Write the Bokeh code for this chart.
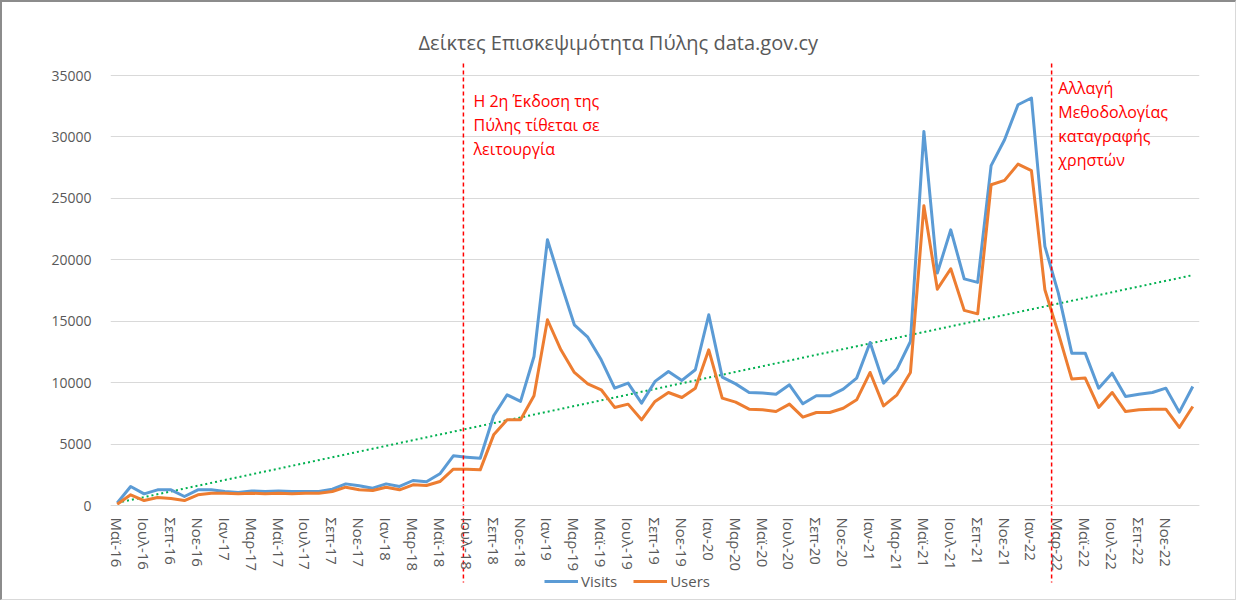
import numpy as np
from bokeh.plotting import figure
from bokeh.models import FixedTicker, Legend, LegendItem, Label, Title, ColumnDataSource
from bokeh.embed import file_html
from bokeh.resources import INLINE

# ---- data ----
month_names = ["Ιαν", "Φεβ", "Μαρ", "Απρ", "Μαϊ", "Ιουν", "Ιουλ", "Αυγ", "Σεπ", "Οκτ", "Νοε", "Δεκ"]
months = []
for k in range(81):
    m = (4 + k) % 12
    y = 16 + (4 + k) // 12
    months.append(f"{month_names[m]}-{y}")

visits = [200, 1550, 950, 1275, 1275, 730, 1275, 1275, 1140, 1060,
          1190, 1140, 1190, 1140, 1140, 1140, 1330, 1760, 1600, 1410,
          1760, 1550, 2035, 1930, 2580, 4040, 3935, 3850, 7300, 9010,
          8470, 12130, 21630, 18100, 14710, 13700, 11860, 9550, 9960, 8330,
          10100, 10910, 10180, 11050, 15520, 10450, 9900, 9200, 9150, 9060,
          9820, 8280, 8930, 8930, 9470, 10370, 13270, 9960, 11100, 13350,
          30450, 18920, 22440, 18450, 18160, 27660, 29770, 32620, 33170, 21090,
          17290, 12400, 12400, 9550, 10770, 8870, 9060, 9200, 9550, 7600,
          9690]
users = [100, 870, 400, 650, 570, 400, 870, 1000, 1000, 950,
         1000, 950, 1000, 950, 1000, 1000, 1140, 1490, 1275, 1220,
         1490, 1275, 1680, 1630, 1950, 2960, 2960, 2900, 5750, 6975,
         6975, 8930, 15120, 12670, 10830, 9900, 9420, 7980, 8250, 6975,
         8470, 9200, 8790, 9550, 12670, 8740, 8410, 7840, 7790, 7650,
         8250, 7190, 7570, 7570, 7920, 8600, 10830, 8110, 9010, 10830,
         24400, 17610, 19270, 15880, 15600, 26110, 26460, 27790, 27250, 17560,
         14030, 10290, 10370, 7980, 9200, 7650, 7790, 7840, 7840, 6350,
         8060]
y_ticks = [0, 5000, 10000, 15000, 20000, 25000, 30000, 35000]
title_text = "Δείκτες Επισκεψιμότητα Πύλης data.gov.cy"
note1 = ["Η 2η Έκδοση της", "Πύλης τίθεται σε", "λειτουργία"]
note2 = ["Αλλαγή", "Μεθοδολογίας", "καταγραφής", "χρηστών"]

# ---- styling constants ----
BLUE = "#5B9BD5"
ORANGE = "#ED7D31"
GREEN = "#00B050"
GREY_TXT = "#595959"
GRID = "#D9D9D9"
FONT = "Open Sans"
UNITS_PER_PX = 35000 / 430.0

x = list(range(len(months)))
src = ColumnDataSource(dict(x=x, visits=visits, users=users, month=months))

p = figure(width=1236, height=600, output_backend="svg", toolbar_location=None,
           x_range=(-0.5, 80.5), y_range=(-85 * UNITS_PER_PX, 445 * UNITS_PER_PX),
           min_border_left=108, min_border_right=39, min_border_top=58, min_border_bottom=12)
p.outline_line_color = None
p.background_fill_color = "white"

p.title = Title(text=title_text, align="left", text_font=FONT, text_font_size="20px",
                text_color=GREY_TXT, text_font_style="normal", standoff=9, offset=308)

# gridlines / axes
p.xgrid.visible = False
p.ygrid.grid_line_color = GRID
p.ygrid.grid_line_width = 1
p.yaxis.ticker = FixedTicker(ticks=y_ticks)
p.yaxis.axis_line_color = None
p.yaxis.major_tick_line_color = None
p.yaxis.minor_tick_line_color = None
p.yaxis.major_label_text_font = FONT
p.yaxis.major_label_text_font_size = "14px"
p.yaxis.major_label_text_color = GREY_TXT
p.yaxis.major_label_standoff = 13

label_idx = list(range(0, 79, 2))
p.xaxis.ticker = FixedTicker(ticks=label_idx)
p.xaxis.major_label_overrides = {i: months[i] for i in label_idx}
p.xaxis.fixed_location = 0
p.xaxis.axis_line_color = GRID
p.xaxis.major_tick_line_color = None
p.xaxis.minor_tick_line_color = None
p.xaxis.major_label_orientation = "vertical"
p.xaxis.major_label_text_font = FONT
p.xaxis.major_label_text_font_size = "15px"
p.xaxis.major_label_text_color = GREY_TXT
p.xaxis.major_label_standoff = 6

# trendline (linear fit of visits)
coef = np.polyfit(x, visits, 1)
trend = [coef[1] + coef[0] * xi for xi in (x[0], x[-1])]
p.line([x[0], x[-1]], trend, line_color=GREEN, line_width=2, line_dash="2 3")

rv = p.line("x", "visits", source=src, line_color=BLUE, line_width=3, line_join="round")
ru = p.line("x", "users", source=src, line_color=ORANGE, line_width=3, line_join="round")

# vertical event markers
events = [25.75, 69.5]
for ev in events:
    p.segment(x0=ev, x1=ev, y0=442 * UNITS_PER_PX, y1=-77 * UNITS_PER_PX,
              line_color="#FF0000", line_width=1.5, line_dash="4 3")

def add_note(lines, xpos, ytop_px):
    for k, t in enumerate(lines):
        ypx = ytop_px + 24 * k
        p.add_layout(Label(x=xpos, y=(505 - ypx) * UNITS_PER_PX, text=t,
                           text_font=FONT, text_font_size="16px", text_color="#FF0000",
                           text_baseline="middle", text_align="left"))

add_note(note1, 26.5, 100)
add_note(note2, 70.0, 87)

legend = Legend(items=[LegendItem(label="Visits", renderers=[rv]),
                       LegendItem(label="Users", renderers=[ru])],
                orientation="horizontal", location=(434, -1),
                label_text_font=FONT, label_text_font_size="15px", label_text_color=GREY_TXT,
                glyph_width=34, label_standoff=3, spacing=16, padding=0, margin=0,
                border_line_color=None, background_fill_alpha=0)
p.add_layout(legend, "center")

p.styles = {"border-top": "2px solid #8c8c8c", "border-left": "2px solid #8c8c8c",
            "border-right": "1px solid #d9d9d9", "border-bottom": "1px solid #d9d9d9"}

open("out.html", "w").write(file_html(p, INLINE))
